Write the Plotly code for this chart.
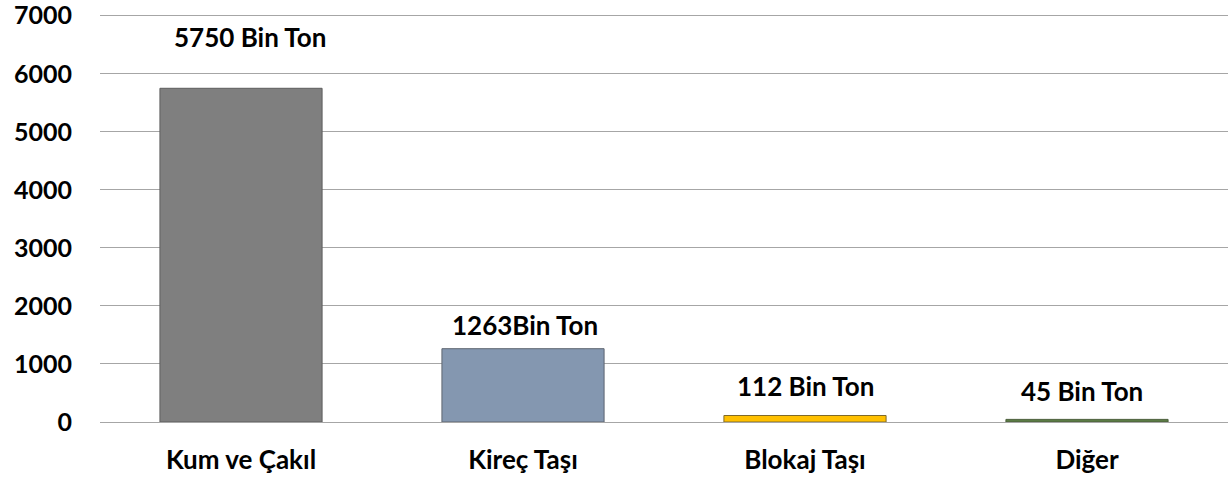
import plotly.graph_objects as go

categories = ["Kum ve Çakıl", "Kireç Taşı", "Blokaj Taşı", "Diğer"]
values = [5750, 1263, 112, 45]
labels = ["5750 Bin Ton", "1263Bin Ton", "112 Bin Ton", "45 Bin Ton"]
tick_vals = [0, 1000, 2000, 3000, 4000, 5000, 6000, 7000]

colors = ["#7F7F7F", "#8497B0", "#FFC000", "#5B7B45"]
border_colors = ["#5E5E5E", "#5E6570", "#7F6A2A", "#4A5E3A"]
label_shift = [51, 24, 30, 28]
label_xshift = [9, 2, 0, -5]

FONT = "Lato"
FS = 26

fig = go.Figure()
fig.add_trace(go.Bar(
    x=categories, y=values,
    marker=dict(color=colors, line=dict(color=border_colors, width=1)),
    width=0.575,
    hoverinfo="skip",
))

for c, v, t, ys, xs in zip(categories, values, labels, label_shift, label_xshift):
    fig.add_annotation(x=c, y=v, text=t, showarrow=False, yshift=ys, xshift=xs,
                       font=dict(family=FONT, size=FS, color="#000000", weight="bold"))

fig.update_layout(
    width=1230, height=480,
    margin=dict(l=100, r=2, t=14, b=58),
    paper_bgcolor="white", plot_bgcolor="white",
    showlegend=False,
    font=dict(family=FONT, size=FS, color="#000000", weight="bold"),
    xaxis=dict(showline=False, showgrid=False, ticks="", ticklabelstandoff=20,
               automargin=False,
               tickfont=dict(family=FONT, size=FS, color="#000000", weight="bold")),
    yaxis=dict(range=[0, 7030], tickvals=tick_vals, showgrid=True, automargin=False,
               ticklabeloverflow="allow",
               gridcolor="#A6A6A6", gridwidth=1, zeroline=True, zerolinecolor="#A6A6A6",
               zerolinewidth=1, showline=False, ticks="", ticklabelstandoff=27,
               tickfont=dict(family=FONT, size=25, color="#000000", weight="bold")),
)

fig.write_html("out.html", config={"displayModeBar": False},
               post_script="document.body.style.margin='0';document.body.style.overflow='hidden';")
